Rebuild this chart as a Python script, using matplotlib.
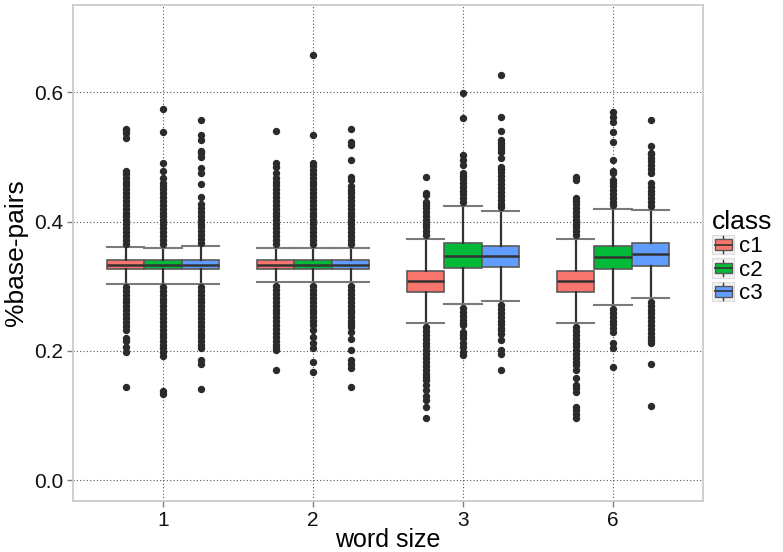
import matplotlib
matplotlib.use("Agg")
import matplotlib.pyplot as plt
from matplotlib.patches import Patch, Rectangle
from matplotlib.lines import Line2D
from matplotlib.legend_handler import HandlerBase

plt.rcParams['font.family'] = ['Liberation Sans', 'DejaVu Sans']

word_sizes = ['1', '2', '3', '6']
classes = ['c1', 'c2', 'c3']
colors = ['#F8766D', '#00BA38', '#619CFF']

# box statistics per class, one value per word size
medians = [[0.333, 0.333, 0.308, 0.308],
           [0.333, 0.333, 0.347, 0.345],
           [0.333, 0.333, 0.347, 0.350]]
q1 = [[0.326, 0.326, 0.291, 0.291],
      [0.326, 0.326, 0.329, 0.326],
      [0.326, 0.326, 0.330, 0.332]]
q3 = [[0.340, 0.340, 0.323, 0.323],
      [0.340, 0.340, 0.367, 0.363],
      [0.340, 0.340, 0.363, 0.367]]
whisker_lo = [[0.304, 0.306, 0.243, 0.243],
              [0.304, 0.306, 0.272, 0.271],
              [0.304, 0.306, 0.277, 0.282]]
whisker_hi = [[0.361, 0.360, 0.373, 0.373],
              [0.360, 0.360, 0.424, 0.419],
              [0.363, 0.360, 0.416, 0.418]]

# outliers
out_c1 = [
    [0.366, 0.372, 0.378, 0.384, 0.390, 0.396, 0.402, 0.408, 0.414, 0.420, 0.426, 0.432, 0.438, 0.444,
     0.450, 0.456, 0.462, 0.468, 0.474, 0.479, 0.529, 0.537, 0.541, 0.544,
     0.299, 0.293, 0.287, 0.281, 0.275, 0.269, 0.263, 0.257, 0.251, 0.245, 0.239, 0.232,
     0.220, 0.215, 0.206, 0.198, 0.144],
    [0.366, 0.372, 0.378, 0.384, 0.390, 0.396, 0.402, 0.408, 0.414, 0.420, 0.426, 0.432, 0.438, 0.444,
     0.450, 0.456, 0.462, 0.468, 0.475, 0.484, 0.490, 0.540,
     0.300, 0.294, 0.288, 0.282, 0.276, 0.270, 0.264, 0.258, 0.252, 0.246, 0.240, 0.234, 0.228, 0.222,
     0.216, 0.210, 0.205, 0.201, 0.170],
    [0.379, 0.385, 0.391, 0.397, 0.403, 0.409, 0.415, 0.421, 0.426, 0.430, 0.441, 0.445, 0.469,
     0.237, 0.231, 0.225, 0.219, 0.213, 0.207, 0.201, 0.195, 0.189, 0.183, 0.177, 0.171, 0.165, 0.160,
     0.155, 0.147, 0.139, 0.131, 0.124, 0.114, 0.097],
    [0.379, 0.385, 0.391, 0.397, 0.403, 0.409, 0.415, 0.421, 0.427, 0.432, 0.436, 0.464, 0.469,
     0.237, 0.231, 0.225, 0.219, 0.213, 0.207, 0.201, 0.195, 0.189, 0.183, 0.178, 0.170, 0.158, 0.147,
     0.142, 0.136, 0.114, 0.108, 0.102, 0.097],
]
out_c2 = [
    [0.366, 0.372, 0.378, 0.384, 0.390, 0.396, 0.402, 0.408, 0.414, 0.420, 0.426, 0.432, 0.438, 0.444,
     0.450, 0.455, 0.460, 0.467, 0.479, 0.490, 0.538, 0.574,
     0.299, 0.293, 0.287, 0.281, 0.275, 0.269, 0.263, 0.257, 0.251, 0.245, 0.239, 0.233, 0.227, 0.221,
     0.215, 0.209, 0.204, 0.198, 0.192, 0.138, 0.134],
    [0.366, 0.372, 0.378, 0.384, 0.390, 0.396, 0.402, 0.408, 0.414, 0.420, 0.426, 0.432, 0.438, 0.444,
     0.450, 0.456, 0.462, 0.468, 0.474, 0.480, 0.486, 0.490, 0.534, 0.657,
     0.300, 0.294, 0.288, 0.282, 0.276, 0.270, 0.264, 0.258, 0.252, 0.247, 0.240, 0.232, 0.221, 0.213,
     0.204, 0.183, 0.167],
    [0.430, 0.436, 0.442, 0.448, 0.454, 0.460, 0.466, 0.471, 0.475, 0.487, 0.495, 0.503, 0.560, 0.599,
     0.266, 0.260, 0.254, 0.248, 0.244, 0.240, 0.229, 0.224, 0.220, 0.212, 0.206, 0.198, 0.193],
    [0.425, 0.431, 0.437, 0.443, 0.449, 0.455, 0.460, 0.464, 0.475, 0.479, 0.495, 0.523, 0.538, 0.554,
     0.562, 0.569,
     0.265, 0.259, 0.253, 0.247, 0.241, 0.235, 0.229, 0.213, 0.204, 0.175],
]
out_c3 = [
    [0.367, 0.373, 0.379, 0.385, 0.391, 0.397, 0.403, 0.409, 0.415, 0.421, 0.428, 0.438, 0.458, 0.475,
     0.483, 0.500, 0.506, 0.510, 0.526, 0.534, 0.557,
     0.299, 0.293, 0.287, 0.281, 0.275, 0.269, 0.263, 0.257, 0.251, 0.245, 0.239, 0.233, 0.227, 0.222,
     0.215, 0.209, 0.204, 0.186, 0.180, 0.141],
    [0.366, 0.372, 0.378, 0.384, 0.390, 0.396, 0.402, 0.408, 0.414, 0.420, 0.426, 0.432, 0.438, 0.444,
     0.449, 0.455, 0.464, 0.469, 0.495, 0.518, 0.523, 0.543,
     0.300, 0.294, 0.288, 0.282, 0.276, 0.270, 0.264, 0.258, 0.252, 0.246, 0.241, 0.237, 0.229, 0.219,
     0.201, 0.186, 0.180, 0.174, 0.144],
    [0.422, 0.428, 0.434, 0.440, 0.446, 0.452, 0.458, 0.464, 0.470, 0.476, 0.481, 0.484, 0.498, 0.507,
     0.512, 0.517, 0.521, 0.526, 0.540, 0.562, 0.626,
     0.271, 0.265, 0.259, 0.253, 0.247, 0.241, 0.236, 0.232, 0.227, 0.217, 0.201, 0.196, 0.170],
    [0.424, 0.430, 0.436, 0.442, 0.448, 0.454, 0.460, 0.475, 0.481, 0.487, 0.493, 0.499, 0.504, 0.506,
     0.517, 0.557,
     0.276, 0.270, 0.264, 0.258, 0.252, 0.246, 0.240, 0.234, 0.228, 0.222, 0.217, 0.212, 0.180, 0.115],
]
outliers = [out_c1, out_c2, out_c3]


class BoxKeyHandler(HandlerBase):
    def create_artists(self, legend, orig_handle, xdescent, ydescent,
                       width, height, fontsize, trans):
        x0, y0 = -xdescent, -ydescent
        cx = x0 + width / 2
        bg = Rectangle((x0, y0), width, height, facecolor='#f2f2f2',
                       edgecolor='#dcdcdc', lw=0.8, transform=trans)
        stem = Line2D([cx, cx], [y0 + 1, y0 + height - 1], color='#333333',
                      lw=1.0, transform=trans)
        box = Rectangle((x0 + width * 0.12, y0 + height * 0.22), width * 0.76,
                        height * 0.56, facecolor=orig_handle.get_facecolor(),
                        edgecolor='#595959', lw=1.0, transform=trans)
        med = Line2D([x0 + width * 0.12, x0 + width * 0.88], [y0 + height / 2] * 2,
                     color='#333333', lw=1.2, transform=trans)
        return [bg, stem, box, med]


fig = plt.figure(figsize=(7.83, 5.52), dpi=100)
ax = fig.add_axes([73 / 783, 51 / 552, 630 / 783, 496 / 552])

offsets = [-0.25, 0.0, 0.25]
for k in range(len(classes)):
    stats = []
    for i in range(len(word_sizes)):
        stats.append(dict(med=medians[k][i], q1=q1[k][i], q3=q3[k][i],
                          whislo=whisker_lo[k][i], whishi=whisker_hi[k][i],
                          fliers=outliers[k][i]))
    pos = [i + offsets[k] for i in range(len(word_sizes))]
    ax.bxp(stats, positions=pos, widths=0.25, capwidths=0.25, patch_artist=True,
           showfliers=True, manage_ticks=False,
           boxprops=dict(facecolor=colors[k], edgecolor='#5a5a5a', lw=1.2),
           whiskerprops=dict(color='#333333', lw=1.6),
           capprops=dict(color='#7a7a7a', lw=1.5),
           medianprops=dict(color='#333333', lw=1.8),
           flierprops=dict(marker='o', markerfacecolor='#2b2b2b',
                           markeredgecolor='#2b2b2b', markersize=4.3))

ax.set_xlim(-0.6, 3.6)
ax.set_ylim(-0.032, 0.735)
ax.set_xticks(range(len(word_sizes)))
ax.set_xticklabels(word_sizes)
ax.set_yticks([0.0, 0.2, 0.4, 0.6])
ax.set_yticklabels(['0.0', '0.2', '0.4', '0.6'])
ax.grid(True, color='#555555', linestyle=(0, (1, 2)), linewidth=0.8)
ax.set_axisbelow(True)
for s in ax.spines.values():
    s.set_color('#cccccc')
    s.set_linewidth(1.3)
ax.tick_params(axis='both', colors='#7f7f7f', length=4, width=1,
               labelsize=15, labelcolor='#111111', pad=3)
ax.set_xlabel('word size', fontsize=18, labelpad=-1)
ax.set_ylabel('%base-pairs', fontsize=19, labelpad=4)

handles = [Patch(facecolor=c) for c in colors]
fig.legend(handles, classes, loc='upper left', bbox_to_anchor=(712 / 783, 1 - 210 / 552),
           frameon=False, title='class', title_fontsize=19, fontsize=16,
           handlelength=1.0, handleheight=0.95, handletextpad=0.2, labelspacing=0.05,
           alignment='left', borderaxespad=0, borderpad=0,
           handler_map={Patch: BoxKeyHandler()})

fig.savefig('out.png', dpi=100)
